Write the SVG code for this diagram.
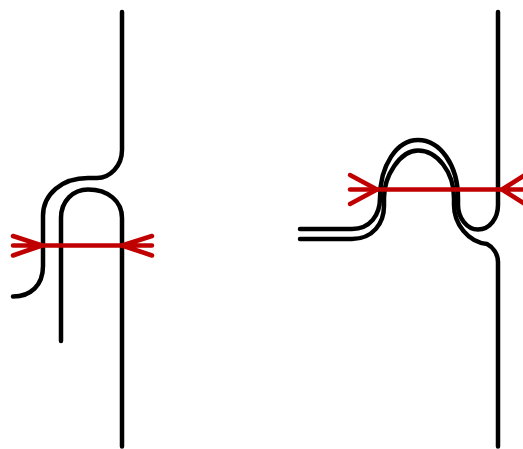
<svg xmlns="http://www.w3.org/2000/svg" width="523" height="449" viewBox="0 0 523 449">
<style>
.k{fill:none;stroke:#000;stroke-width:4.500;stroke-linecap:round;stroke-linejoin:round}
.r{fill:none;stroke:#c00000;stroke-width:4.500;stroke-linecap:round;stroke-linejoin:round}
</style>
<g id="connectors">
<path class="k" d="M122 12V150C122 166 110 178 97 178H88C62 178 43 194 43 216V266C43 285 31 296.500 13 296.500"/>
<path class="k" d="M61 341V218C61 201 73 189.500 88 189.500C108 189.500 122 201 122 218V446.500"/>
<path class="k" d="M300 229H352C370 229 380 215 380 198C380 165 397 140 418 140C440 140 458 165 458 198V205C458 218 467 229.500 478 229.500C490 229.500 498 218 498 205V12"/>
<path class="k" d="M300 239H352C373 239 384 223 384 206V198C384 176 400 150.500 418 150.500C437 150.500 454 172 454 198V205C454 224 468 242 487 244C493 247 498 254 498 262V446.500"/>
<path class="r" d="M43 245.500H122"/>
<path class="r" d="M13 236L42 245.500L13 255.500M13 245.500H42"/>
<path class="r" d="M152 236L122 245.500L152 255.500M152 245.500H122"/>
<path class="r" d="M350 189.500H498"/>
<path class="r" d="M350 175L377 189.500L350 204"/>
<path class="r" d="M525 175L502 189.500L525 204M525 189.500H498"/>
</g>
</svg>
